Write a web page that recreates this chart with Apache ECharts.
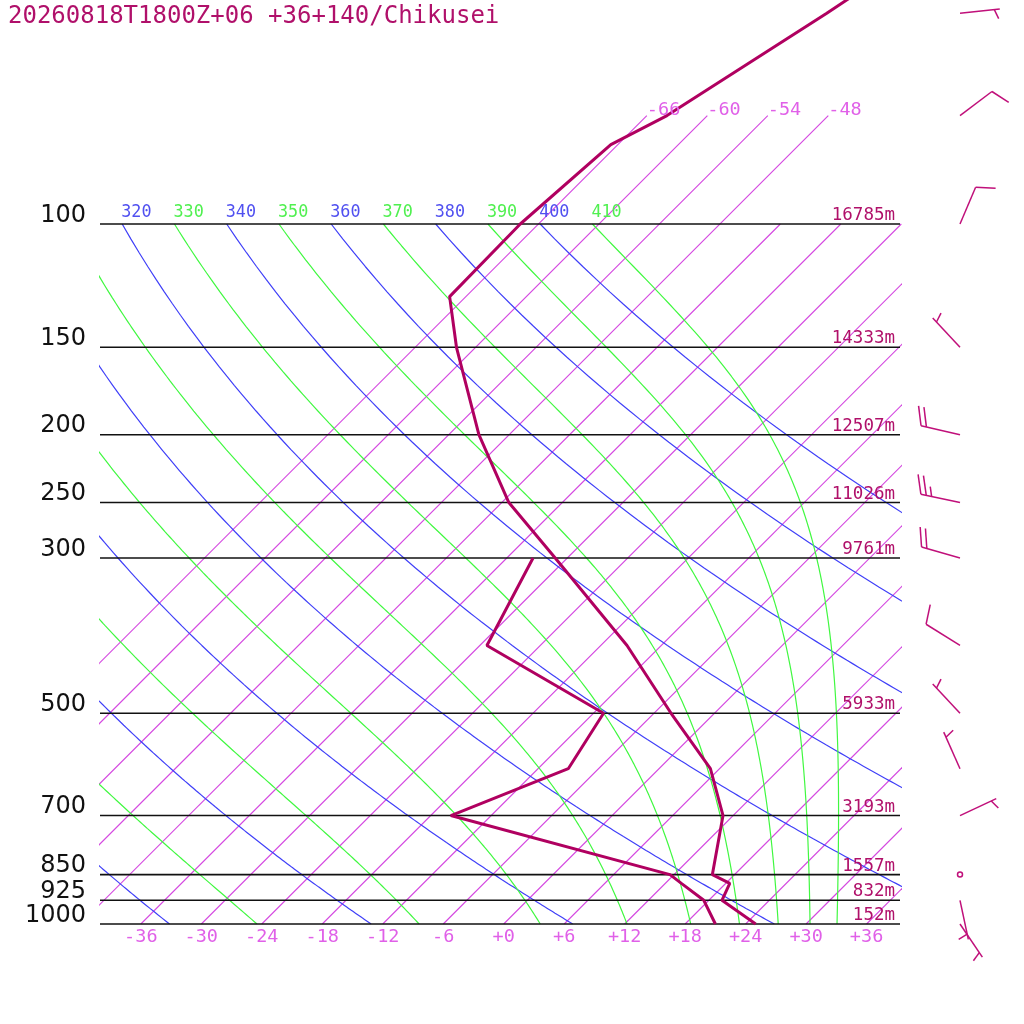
<!DOCTYPE html>
<html>
<head>
<meta charset="utf-8">
<title>Skew-T Chikusei</title>
<script src="https://cdn.jsdelivr.net/npm/echarts@6/dist/echarts.min.js"></script>
<style>
html,body{margin:0;padding:0;background:#fff;}
#chart{width:1024px;height:1024px;}
</style>
</head>
<body>
<div id="chart"></div>
<script>
//站点标题
var stationTitle = "20260818T1800Z+06 +36+140/Chikusei";

//温度廓线 (hPa / °C)
var tempLevels = [1000, 925, 875, 850, 700, 600, 500, 400, 300, 250, 200, 150, 127, 100, 77, 70, 50, 30];
var tempValues = [25.0, 19.3, 18.4, 15.8, 11.0, 5.1, -4.3, -15.4, -31.2, -41.3, -51.0, -61.9, -67.6, -67.8, -66.7, -64.0, -58.3, -50.6];

//露点廓线
var dewLevels = [1000, 925, 875, 850, 700, 600, 500, 400, 300];
var dewValues = [21.0, 17.5, 13.6, 11.6, -16.0, -9.0, -11.0, -29.3, -33.4];

//等压线及位势高度
var isobarLevels = [100, 150, 200, 250, 300, 500, 700, 850, 925, 1000];
var isobarHeights = ["16785m", "14333m", "12507m", "11026m", "9761m", "5933m", "3193m", "1557m", "832m", "152m"];

//风 (方向°, 速度kt)
var windLevels = [1000, 925, 850, 700, 600, 500, 400, 300, 250, 200, 150, 100, 70, 50];
var windDirs = [146, 168, 0, 65, 336, 317, 302, 286, 282, 283, 317, 23, 53, 84];
var windSpeeds = [5, 5, 0, 5, 5, 5, 10, 20, 25, 20, 5, 10, 10, 5];

//背景线
var isothermValues = [-66, -60, -54, -48, -42, -36, -30, -24, -18, -12, -6, 0, 6, 12, 18, 24, 30, 36];
var isothermTopValues = [-66, -60, -54, -48];
var bottomTickValues = [-36, -30, -24, -18, -12, -6, 0, 6, 12, 18, 24, 30, 36];
var dryThetas = [240, 260, 280, 300, 320, 340, 360, 380, 400];
var moistThetas = [250, 270, 290, 310, 330, 350, 370, 390, 410];

// geometry of the skew-T
var PX_PER_DEG = 10.08;
var PX_PER_DECADE = 700;
var X0_PX = 503.7;
var Y1000_PX = 924;
var PLOT_LEFT = 100, PLOT_RIGHT = 900;
var P_TOP = 70, P_LINE_TOP = 100, P_BOTTOM = 1000;
var SKEW = PX_PER_DECADE / PX_PER_DEG;
var KAPPA = 287.04 / 1005.7;
var BARB_X = (960 - X0_PX) / PX_PER_DEG;

var X_MIN = (PLOT_LEFT - X0_PX) / PX_PER_DEG;
var X_MAX = (PLOT_RIGHT - X0_PX) / PX_PER_DEG;

var COL_PROFILE = '#b00060';
var COL_ISOTHERM = '#d448e0';
var COL_DRY = '#4040f8';
var COL_MOIST = '#40f840';
var MONO = "'DejaVu Sans Mono', monospace";

function skewPoint(t, p){
    return [t + SKEW * (3 - Math.log10(p)), Math.log10(p)];
}

function satMix(p, tk){
    var tc = tk - 273.15;
    var es = 6.112 * Math.exp(17.67 * tc / (tc + 243.5));
    return 0.622 * es / (p - es);
}

//湿绝热递减率 dT/dp (K/hPa)
function moistLapse(p, tk){
    var Rd = 287.04, cp = 1005.7, L = 2.501e6, eps = 0.622;
    var rs = satMix(p, tk);
    return (Rd * tk + L * rs) / (cp + L * L * rs * eps / (Rd * tk * tk)) / p;
}

function dryLine(theta){
    var pts = [];
    for (var p = P_LINE_TOP; p <= P_BOTTOM; p += 5){
        pts.push(skewPoint(theta * Math.pow(p / 1000, KAPPA) - 273.15, p));
    }
    return pts;
}

function moistLine(theta){
    var h = 2.5;
    var tk = theta * Math.pow(P_LINE_TOP / 1000, KAPPA);
    var pts = [skewPoint(tk - 273.15, P_LINE_TOP)];
    for (var p = P_LINE_TOP; p < P_BOTTOM - 0.01; p += h){
        var k1 = moistLapse(p, tk);
        var k2 = moistLapse(p + h / 2, tk + h / 2 * k1);
        var k3 = moistLapse(p + h / 2, tk + h / 2 * k2);
        var k4 = moistLapse(p + h, tk + h * k3);
        tk += h / 6 * (k1 + 2 * k2 + 2 * k3 + k4);
        pts.push(skewPoint(tk - 273.15, p + h));
    }
    return pts;
}

function lineSeries(data, color, width, clip, z){
    return {
        type: 'line', data: data, showSymbol: false, symbol: 'none',
        clip: clip, silent: true, z: z, animation: false,
        lineStyle: {color: color, width: width},
        itemStyle: {color: color},
        emphasis: {disabled: true}
    };
}

function textSeries(items, clip){
    return {
        type: 'custom', coordinateSystem: 'cartesian2d', clip: clip, silent: true, z: 20,
        animation: false,
        data: items.map(function(it){ return [it.x, it.y]; }),
        renderItem: function(params, api){
            var it = items[params.dataIndex];
            var c = api.coord([it.x, it.y]);
            return {
                type: 'text', x: c[0] + (it.dx || 0), y: c[1] + (it.dy || 0), silent: true,
                style: {text: it.text, fill: it.color, font: it.font,
                    align: it.align || 'left', verticalAlign: 'middle'}
            };
        }
    };
}

function signed(v){
    return (v < 0 ? '-' : '+') + Math.abs(v);
}

//风向杆
function renderBarb(params, api){
    var i = params.dataIndex;
    var base = api.coord([BARB_X, Math.log10(windLevels[i])]);
    var color = '#c0107a';
    var st = {stroke: color, lineWidth: 1.5, fill: null};
    var spd = windSpeeds[i];
    if (spd === 0){
        return {type: 'circle', shape: {cx: base[0], cy: base[1], r: 2.5},
            style: {stroke: color, lineWidth: 1.5, fill: 'none'}};
    }
    var d = windDirs[i] * Math.PI / 180;
    var ux = Math.sin(d), uy = -Math.cos(d);
    var tip = [base[0] + ux * 40, base[1] + uy * 40];
    var children = [{type: 'line', shape: {x1: base[0], y1: base[1], x2: tip[0], y2: tip[1]}, style: st}];
    var ang = Math.atan2(uy, ux) + 70 * Math.PI / 180;
    var bx = Math.cos(ang), by = Math.sin(ang);
    var full = Math.floor(spd / 10);
    var half = (spd % 10) >= 5 ? 1 : 0;
    var pos = 0;
    function feather(len){
        var sx = tip[0] - ux * pos * 5.5, sy = tip[1] - uy * pos * 5.5;
        children.push({type: 'line', shape: {x1: sx, y1: sy, x2: sx + bx * len, y2: sy + by * len}, style: st});
        pos++;
    }
    for (var k = 0; k < full; k++) feather(20);
    if (half){
        if (pos === 0) pos = 1;
        feather(10);
    }
    return {type: 'group', children: children};
}

var series = [];

//等温线
for (var i = 0; i < isothermValues.length; i++){
    var t = isothermValues[i];
    var pTop = isothermTopValues.indexOf(t) >= 0 ? P_TOP : P_LINE_TOP;
    series.push(lineSeries([skewPoint(t, P_BOTTOM), skewPoint(t, pTop)], COL_ISOTHERM, 1.1, true, 2));
}
//干绝热线
for (var i = 0; i < dryThetas.length; i++){
    series.push(lineSeries(dryLine(dryThetas[i]), COL_DRY, 1.2, true, 3));
}
//湿绝热线
for (var i = 0; i < moistThetas.length; i++){
    series.push(lineSeries(moistLine(moistThetas[i]), COL_MOIST, 1.2, true, 3));
}
//等压线
for (var i = 0; i < isobarLevels.length; i++){
    var lp = Math.log10(isobarLevels[i]);
    series.push(lineSeries([[X_MIN, lp], [X_MAX, lp]], '#111111', 1.6, false, 4));
}

//温度/露点
series.push(lineSeries(tempLevels.map(function(p, k){ return skewPoint(tempValues[k], p); }), COL_PROFILE, 3, false, 10));
series.push(lineSeries(dewLevels.map(function(p, k){ return skewPoint(dewValues[k], p); }), COL_PROFILE, 3, false, 10));

//文字
var freeTexts = [];
var clippedTexts = [];
isobarLevels.forEach(function(p, k){
    freeTexts.push({x: X_MIN, y: Math.log10(p), dx: -14, dy: -8.5, text: String(p), align: 'right',
        color: '#111111', font: "24px 'DejaVu Sans', sans-serif"});
    freeTexts.push({x: X_MAX, y: Math.log10(p), dx: -5, dy: -8.5, text: isobarHeights[k], align: 'right',
        color: '#b0106a', font: '17.5px ' + MONO});
});
bottomTickValues.forEach(function(t){
    freeTexts.push({x: t, y: 3, dx: 0, dy: 13.5, text: signed(t), align: 'center',
        color: '#e060e8', font: '18.5px ' + MONO});
});
isothermTopValues.forEach(function(t){
    var q = skewPoint(t, P_TOP);
    freeTexts.push({x: q[0], y: q[1], dx: 0, dy: -5, text: signed(t), align: 'left',
        color: '#e060e8', font: '18.5px ' + MONO});
});
dryThetas.concat(moistThetas).forEach(function(th){
    var q = skewPoint(th * Math.pow(P_LINE_TOP / 1000, KAPPA) - 273.15, P_LINE_TOP);
    var isDry = dryThetas.indexOf(th) >= 0;
    clippedTexts.push({x: q[0], y: q[1], dx: -1, dy: -11.2, text: String(th), align: 'left',
        color: isDry ? '#5050f0' : '#50f050', font: '16.8px ' + MONO});
});
series.push(textSeries(freeTexts, false));
series.push(textSeries(clippedTexts, true));

series.push({
    type: 'custom', coordinateSystem: 'cartesian2d', clip: false, silent: true, z: 15,
    animation: false,
    data: windLevels.map(function(p){ return [BARB_X, Math.log10(p)]; }),
    renderItem: renderBarb
});

var gridHeight = PX_PER_DECADE * (3 - Math.log10(P_TOP));
var chart = echarts.init(document.getElementById('chart'), null, {renderer: 'canvas', width: 1024, height: 1024});
chart.setOption({
    animation: false,
    backgroundColor: '#ffffff',
    grid: {left: PLOT_LEFT, width: PLOT_RIGHT - PLOT_LEFT, top: Y1000_PX - gridHeight, height: gridHeight, containLabel: false},
    xAxis: {type: 'value', min: X_MIN, max: X_MAX, show: false},
    yAxis: {type: 'value', min: Math.log10(P_TOP), max: 3, inverse: true, show: false},
    graphic: [{
        type: 'text', x: 8, y: 17, silent: true,
        style: {text: stationTitle, fill: '#b0106a', font: '24px ' + MONO, verticalAlign: 'middle'}
    }],
    series: series
});
</script>
</body>
</html>
